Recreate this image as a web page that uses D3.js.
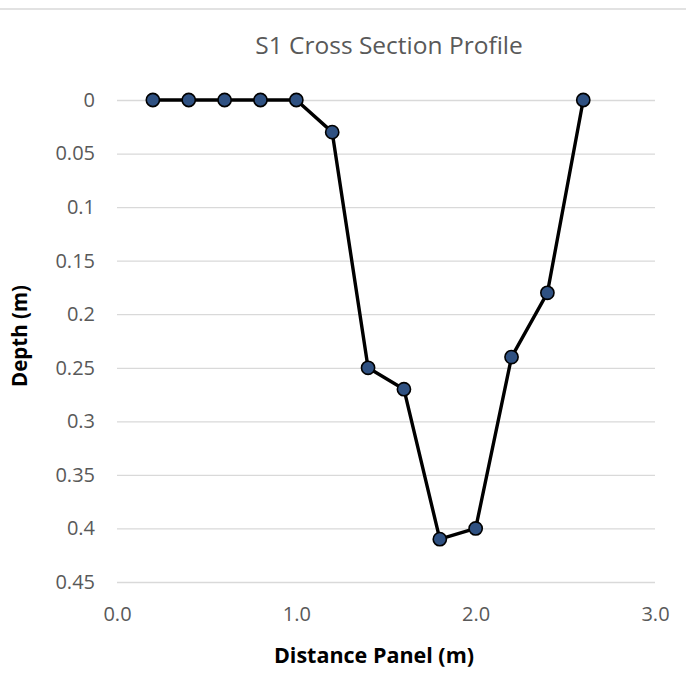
<!DOCTYPE html>
<html>
<head>
<meta charset="utf-8">
<script src="https://cdn.jsdelivr.net/npm/d3@7"></script>
<style>
  body { margin: 0; background: #fff; }
  svg { display: block; font-family: "Open Sans", "Noto Sans", sans-serif; }
</style>
</head>
<body>
<div id="chart-area"></div>
<script>
const distance = [0.2, 0.4, 0.6, 0.8, 1.0, 1.2, 1.4, 1.6, 1.8, 2.0, 2.2, 2.4, 2.6]
const depth = [0, 0, 0, 0, 0, 0.03, 0.25, 0.27, 0.41, 0.40, 0.24, 0.18, 0]
const xTicks = [0, 1, 2, 3]
const yTicks = [0, 0.05, 0.1, 0.15, 0.2, 0.25, 0.3, 0.35, 0.4, 0.45]

const W = 686, H = 677
const MARGIN = { LEFT: 117, RIGHT: 31, TOP: 100, BOTTOM: 95 }
const WIDTH = W - MARGIN.LEFT - MARGIN.RIGHT
const HEIGHT = H - MARGIN.TOP - MARGIN.BOTTOM

const svg = d3.select("#chart-area").append("svg")
  .attr("width", W)
  .attr("height", H)

// top border of the chart box
svg.append("line")
  .attr("x1", 0).attr("x2", W)
  .attr("y1", 9).attr("y2", 9)
  .attr("stroke", "#d9d9d9")
  .attr("stroke-width", 1.5)

const g = svg.append("g")
  .attr("transform", `translate(${MARGIN.LEFT}, ${MARGIN.TOP})`)

const x = d3.scaleLinear().domain([0, 3]).range([0, WIDTH])
const y = d3.scaleLinear().domain([0, 0.45]).range([0, HEIGHT])

// gridlines + y labels
const yAxis = d3.axisLeft(y)
  .tickValues(yTicks)
  .tickSize(-WIDTH)
  .tickPadding(22)
  .tickFormat(d => String(+d.toFixed(2)))
g.append("g").call(yAxis)
  .attr("font-size", 20).attr("font-family", null)
  .call(s => s.select(".domain").remove())
  .call(s => s.selectAll(".tick line").attr("stroke", "#d9d9d9").attr("stroke-width", 1.3))
  .call(s => s.selectAll(".tick text").attr("fill", "#595959"))

const xAxis = d3.axisBottom(x)
  .tickValues(xTicks)
  .tickSize(0)
  .tickPadding(25)
  .tickFormat(d3.format(".1f"))
g.append("g")
  .attr("transform", `translate(0, ${HEIGHT})`)
  .call(xAxis)
  .attr("font-size", 20).attr("font-family", null)
  .call(s => s.select(".domain").remove())
  .call(s => s.selectAll(".tick text").attr("fill", "#595959"))

const data = distance.map((d, i) => ({ x: d, y: depth[i] }))

const line = d3.line().x(d => x(d.x)).y(d => y(d.y))
g.append("path")
  .datum(data)
  .attr("fill", "none")
  .attr("stroke", "#000")
  .attr("stroke-width", 3.4)
  .attr("stroke-linejoin", "round")
  .attr("d", line)

g.selectAll("circle")
  .data(data)
  .enter().append("circle")
  .attr("cx", d => x(d.x))
  .attr("cy", d => y(d.y))
  .attr("r", 6.6)
  .attr("fill", "#2f5182")
  .attr("stroke", "#000")
  .attr("stroke-width", 1.6)

// Title
svg.append("text")
  .attr("x", 389)
  .attr("y", 54)
  .attr("text-anchor", "middle")
  .attr("fill", "#595959")
  .style("font-size", "24.5px")
  .text("S1 Cross Section Profile")

// X label
svg.append("text")
  .attr("x", 374)
  .attr("y", 663)
  .attr("text-anchor", "middle")
  .style("font-size", "21.5px")
  .style("font-weight", "bold")
  .text("Distance Panel (m)")

// Y label
svg.append("text")
  .attr("transform", "translate(27, 336) rotate(-90)")
  .attr("text-anchor", "middle")
  .style("font-size", "20.5px")
  .style("font-weight", "bold")
  .text("Depth (m)")
</script>
</body>
</html>
